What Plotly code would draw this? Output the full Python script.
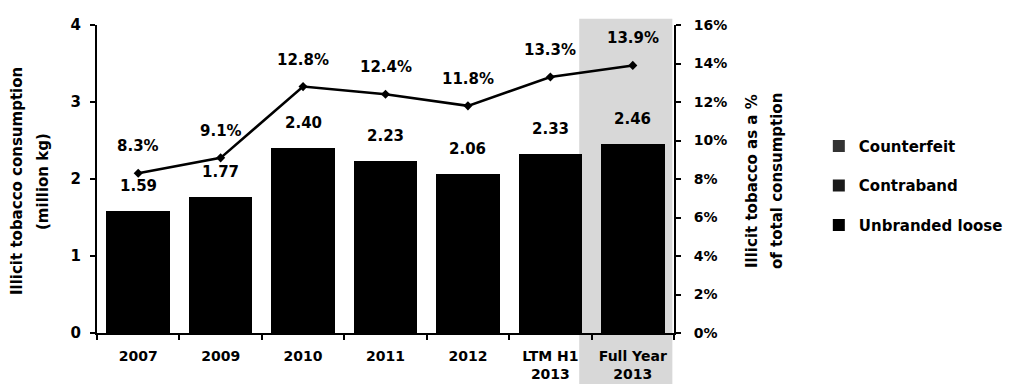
import plotly.graph_objects as go

categories = ["2007", "2009", "2010", "2011", "2012", "LTM H1<br>2013", "Full Year<br>2013"]
totals = [1.59, 1.77, 2.40, 2.23, 2.06, 2.33, 2.46]
unbranded_loose = [1.59, 1.77, 2.40, 2.23, 2.06, 2.33, 2.46]
contraband = [0, 0, 0, 0, 0, 0, 0]
counterfeit = [0, 0, 0, 0, 0, 0, 0]
pct_share = [0.083, 0.091, 0.128, 0.124, 0.118, 0.133, 0.139]
pct_labels = ["8.3%", "9.1%", "12.8%", "12.4%", "11.8%", "13.3%", "13.9%"]
total_labels = ["1.59", "1.77", "2.40", "2.23", "2.06", "2.33", "2.46"]
left_title = ["Illicit tobacco consumption", "(million kg)"]
right_title = ["Illicit tobacco as a %", "of total consumption"]

FONT = "DejaVu Sans, Arial, sans-serif"

fig = go.Figure()
fig.add_trace(go.Bar(x=categories, y=unbranded_loose, name="Unbranded loose", legendrank=3,
                     marker=dict(color="#000000", line=dict(width=0)), legendgroup="u"))
fig.add_trace(go.Bar(x=categories, y=contraband, name="Contraband", legendrank=2,
                     marker=dict(color="#1a1a1a", line=dict(width=0)), legendgroup="c"))
fig.add_trace(go.Bar(x=categories, y=counterfeit, name="Counterfeit", legendrank=1,
                     marker=dict(color="#333333", line=dict(width=0)), legendgroup="f"))
fig.add_trace(go.Scatter(x=categories, y=pct_share, yaxis="y2", mode="lines+markers",
                         line=dict(color="#000000", width=2.5),
                         marker=dict(color="#000000", size=7, symbol="diamond"),
                         showlegend=False))

annotations = []
for i, (v, t) in enumerate(zip(totals, total_labels)):
    annotations.append(dict(x=i, y=v, xref="x", yref="y", text="<b>" + t + "</b>",
                            showarrow=False, yshift=25, font=dict(family=FONT, size=15, color="#000")))
for i, (v, t) in enumerate(zip(pct_share, pct_labels)):
    annotations.append(dict(x=i, y=v, xref="x", yref="y2", text="<b>" + t + "</b>",
                            showarrow=False, yshift=27, font=dict(family=FONT, size=15, color="#000")))
for xp, t in zip([-0.1386, -0.0936], left_title):
    annotations.append(dict(x=xp, y=0.4935, xref="paper", yref="paper", text="<b>" + t + "</b>",
                            textangle=-90, showarrow=False, xanchor="center", yanchor="middle",
                            font=dict(family=FONT, size=15, color="#000")))
for xp, t in zip([1.1352, 1.1785], right_title):
    annotations.append(dict(x=xp, y=0.4935, xref="paper", yref="paper", text="<b>" + t + "</b>",
                            textangle=-90, showarrow=False, xanchor="center", yanchor="middle",
                            font=dict(family=FONT, size=15, color="#000")))

fig.update_layout(
    width=1014, height=384,
    margin=dict(l=97, r=340, t=25, b=51, autoexpand=False),
    paper_bgcolor="white", plot_bgcolor="white",
    barmode="stack", bargap=0.23,
    font=dict(family=FONT, size=14, color="#000"),
    shapes=[dict(type="rect", xref="x", yref="paper", x0=5.35, x1=6.48, y0=-0.17, y1=1.02,
                 fillcolor="#d8d8d8", line=dict(width=0), layer="below")],
    annotations=annotations,
    xaxis=dict(type="category", range=[-0.5, 6.5], showline=True, linecolor="#000", linewidth=2,
               ticks="outside", tickson="boundaries", ticklen=5, tickcolor="#000", tickwidth=2,
               tickangle=0, ticklabelstandoff=9, automargin=False,
               tickfont=dict(family=FONT, size=14, color="#000", weight="bold"), showgrid=False),
    yaxis=dict(range=[0, 4], dtick=1, showline=True, linecolor="#000", linewidth=2,
               ticks="outside", ticklen=5, tickwidth=2, tickcolor="#000", showgrid=False, zeroline=False,
               ticklabelstandoff=6, automargin=False,
               tickfont=dict(family=FONT, size=15, color="#000", weight="bold")),
    yaxis2=dict(range=[0, 0.16], dtick=0.02, tickformat=".0%", overlaying="y", side="right",
                showline=True, linecolor="#000", linewidth=2, ticks="outside", ticklen=5, tickwidth=2,
                tickcolor="#000", showgrid=False, zeroline=False, ticklabelstandoff=10, automargin=False,
                tickfont=dict(family=FONT, size=14, color="#000", weight="bold")),
    legend=dict(x=1.251, y=0.66, xanchor="left", yanchor="top", traceorder="grouped",
                tracegroupgap=17, font=dict(family=FONT, size=15, color="#000", weight="bold"),
                itemwidth=30, bgcolor="rgba(0,0,0,0)"),
)

fig.write_html("out.html")
